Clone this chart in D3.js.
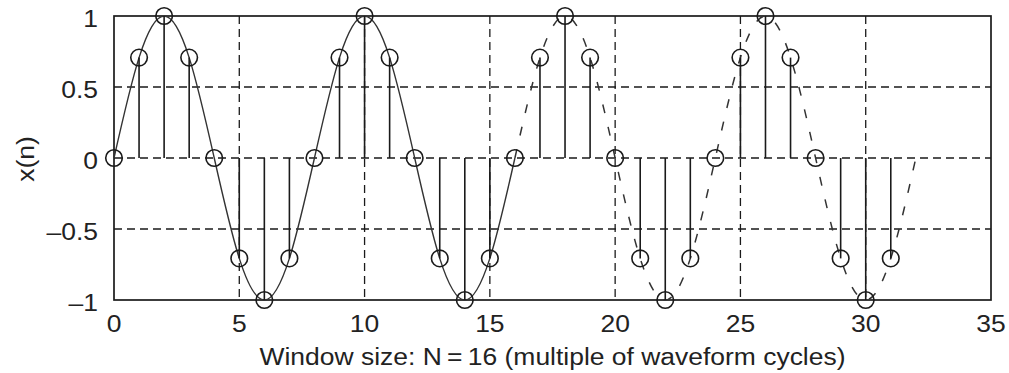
<!DOCTYPE html>
<html>
<head>
<meta charset="utf-8">
<script src="https://cdn.jsdelivr.net/npm/d3@7"></script>
<style>
  html, body { margin: 0; padding: 0; background: #fff; }
  svg { display: block; }
  text { font-family: "Liberation Sans", Arial, Helvetica, sans-serif; fill: #222; }
</style>
</head>
<body>
<svg id="chart" width="1009" height="373"></svg>
<script>
// Sampled sinusoid x(n), eight samples per cycle, n = 0..31
const sampleN = d3.range(0, 32);
const sampleX = [
  0, 0.707, 1, 0.707, 0, -0.707, -1, -0.707,
  0, 0.707, 1, 0.707, 0, -0.707, -1, -0.707,
  0, 0.707, 1, 0.707, 0, -0.707, -1, -0.707,
  0, 0.707, 1, 0.707, 0, -0.707, -1, -0.707
];
// Continuous waveform: solid over the window (0..16), dashed for the repeat (16..32)
const windowN = d3.range(0, 17);
const windowX = [0, 0.707, 1, 0.707, 0, -0.707, -1, -0.707, 0, 0.707, 1, 0.707, 0, -0.707, -1, -0.707, 0];
const repeatN = d3.range(16, 33);
const repeatX = [0, 0.707, 1, 0.707, 0, -0.707, -1, -0.707, 0, 0.707, 1, 0.707, 0, -0.707, -1, -0.707, 0];

const xTicks = [0, 5, 10, 15, 20, 25, 30, 35];
const yTicks = [-1, -0.5, 0, 0.5, 1];
const yTickLabels = ["\u20131", "\u20130.5", "0", "0.5", "1"];
const xLabel = "Window size: N\u2009=\u200916 (multiple of waveform cycles)";
const yLabel = "x(n)";

const svg = d3.select("#chart");
const plotLeft = 114, plotRight = 991, plotTop = 16, plotBottom = 300;

const x = d3.scaleLinear().domain([0, 35]).range([plotLeft, plotRight]);
const y = d3.scaleLinear().domain([-1, 1]).range([plotBottom, plotTop]);

const ink = "#1a1a1a";
const fontSize = 24.5;
const stretch = 1.08;   // slightly wide lettering

// grid
const grid = svg.append("g")
  .attr("stroke", ink).attr("stroke-width", 1.3).attr("stroke-dasharray", "8,5");
grid.selectAll("line.v").data(xTicks.filter(d => d > 0 && d < 35)).join("line")
  .attr("class", "v")
  .attr("x1", d => x(d)).attr("x2", d => x(d))
  .attr("y1", y(1)).attr("y2", y(-1));
grid.selectAll("line.h").data(yTicks.filter(d => d > -1 && d < 1)).join("line")
  .attr("class", "h")
  .attr("x1", x(0)).attr("x2", x(35))
  .attr("y1", d => y(d)).attr("y2", d => y(d));

// frame
svg.append("rect")
  .attr("x", x(0)).attr("y", y(1))
  .attr("width", x(35) - x(0)).attr("height", y(-1) - y(1))
  .attr("fill", "none").attr("stroke", ink).attr("stroke-width", 1.7);

// continuous waveform
const line = d3.line().x(d => x(d[0])).y(d => y(d[1])).curve(d3.curveNatural);
svg.append("path")
  .datum(windowN.map((n, i) => [n, windowX[i]]))
  .attr("d", line).attr("fill", "none")
  .attr("stroke", "#333").attr("stroke-width", 1.4);
svg.append("path")
  .datum(repeatN.map((n, i) => [n, repeatX[i]]))
  .attr("d", line).attr("fill", "none")
  .attr("stroke", "#333").attr("stroke-width", 1.5)
  .attr("stroke-dasharray", "9,14");

// stems
const stems = svg.append("g");
stems.selectAll("line").data(sampleN).join("line")
  .attr("x1", d => x(d)).attr("x2", d => x(d))
  .attr("y1", y(0)).attr("y2", (d, i) => y(sampleX[i]))
  .attr("stroke", ink).attr("stroke-width", 1.6);
stems.selectAll("circle").data(sampleN).join("circle")
  .attr("cx", d => x(d)).attr("cy", (d, i) => y(sampleX[i]))
  .attr("r", 8.3)
  .attr("fill", "none").attr("stroke", ink).attr("stroke-width", 1.6);

// tick labels
svg.append("g").selectAll("text").data(xTicks).join("text")
  .attr("transform", d => `translate(${x(d)},332) scale(${stretch},1)`)
  .attr("text-anchor", "middle")
  .attr("font-size", fontSize)
  .text(d => d);
svg.append("g").selectAll("text").data(yTicks).join("text")
  .attr("transform", d => `translate(98,${y(d) + 11}) scale(${stretch},1)`)
  .attr("text-anchor", "end")
  .attr("font-size", fontSize)
  .text((d, i) => yTickLabels[i]);

// axis titles
svg.append("text")
  .attr("transform", `translate(${x(17.5)},365) scale(${stretch},1)`)
  .attr("text-anchor", "middle")
  .attr("font-size", fontSize)
  .text(xLabel);
svg.append("text")
  .attr("transform", `translate(34,${y(0) + 1}) rotate(-90) scale(${stretch},1)`)
  .attr("text-anchor", "middle")
  .attr("font-size", fontSize)
  .text(yLabel);
</script>
</body>
</html>
